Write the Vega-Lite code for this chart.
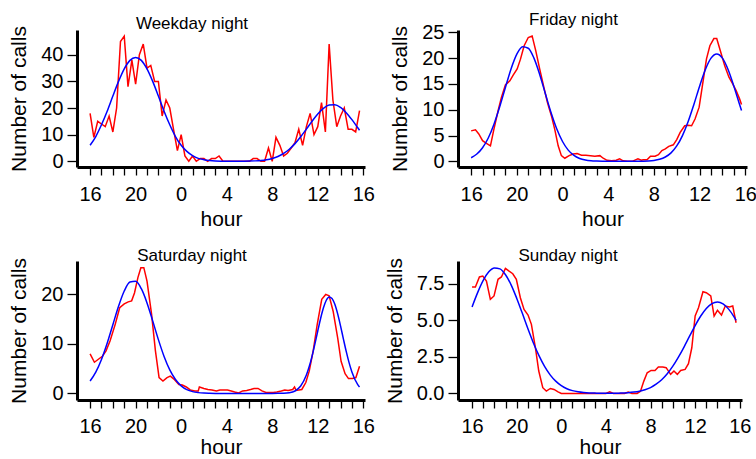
{
  "$schema": "https://vega.github.io/schema/vega-lite/v6.json",
  "background": "white",
  "padding": {"left": 8, "top": 11, "right": 3, "bottom": 0},
  "config": {
    "font": "Liberation Sans",
    "view": {"stroke": null},
    "axis": {"domainColor": "black", "domainWidth": 3, "tickColor": "black", "tickWidth": 1.3, "labelColor": "black", "titleColor": "black", "labelFontSize": 20, "titleFontSize": 21, "titleFontWeight": "normal", "grid": false, "labelFlush": false, "labelOverlap": false},
    "axisX": {"tickSize": 8, "labelPadding": 9, "titlePadding": 4},
    "axisY": {"tickSize": 10, "labelPadding": 4, "titlePadding": 11},
    "title": {"fontSize": 17, "fontWeight": "normal", "color": "black", "offset": -7, "dx": -29}
  },
  "datasets": {
    "wk_obs": [
      {"h":0,"calls":18},{"h":0.33,"calls":9},{"h":0.67,"calls":15},{"h":1,"calls":14},{"h":1.33,"calls":13},{"h":1.67,"calls":17},{"h":2,"calls":11},{"h":2.33,"calls":20},{"h":2.67,"calls":45},{"h":3,"calls":47},
      {"h":3.33,"calls":28},{"h":3.67,"calls":38},{"h":4,"calls":29},{"h":4.33,"calls":40},{"h":4.67,"calls":44},{"h":5,"calls":35},{"h":5.33,"calls":36},{"h":5.67,"calls":30},{"h":6,"calls":30},{"h":6.33,"calls":17},
      {"h":6.67,"calls":23},{"h":7,"calls":20},{"h":7.33,"calls":12},{"h":7.67,"calls":4},{"h":8,"calls":10},{"h":8.33,"calls":2},{"h":8.67,"calls":0},{"h":9,"calls":2},{"h":9.33,"calls":0},{"h":9.67,"calls":1},
      {"h":10,"calls":1},{"h":10.33,"calls":0},{"h":10.67,"calls":1},{"h":11,"calls":1},{"h":11.33,"calls":2},{"h":11.67,"calls":0},{"h":12,"calls":0},{"h":12.33,"calls":0},{"h":12.67,"calls":0},{"h":13,"calls":0},
      {"h":13.33,"calls":0},{"h":13.67,"calls":0},{"h":14,"calls":0},{"h":14.33,"calls":1},{"h":14.67,"calls":1},{"h":15,"calls":0},{"h":15.33,"calls":0},{"h":15.67,"calls":5},{"h":16,"calls":0},{"h":16.33,"calls":9},
      {"h":16.67,"calls":6},{"h":17,"calls":2},{"h":17.33,"calls":3},{"h":17.67,"calls":5},{"h":18,"calls":7},{"h":18.33,"calls":12},{"h":18.67,"calls":6},{"h":19,"calls":13},{"h":19.33,"calls":18},{"h":19.67,"calls":10},
      {"h":20,"calls":13},{"h":20.33,"calls":22},{"h":20.67,"calls":11},{"h":21,"calls":44},{"h":21.33,"calls":23},{"h":21.67,"calls":13},{"h":22,"calls":17},{"h":22.33,"calls":20},{"h":22.67,"calls":12},{"h":23,"calls":12},
      {"h":23.33,"calls":11},{"h":23.67,"calls":19}
    ],
    "wk_fit": [
      {"h":0,"calls":6.0},{"h":0.5,"calls":9.3},{"h":1,"calls":13.7},{"h":1.5,"calls":18.8},{"h":2,"calls":24.5},{"h":2.5,"calls":30.0},{"h":3,"calls":34.7},{"h":3.5,"calls":37.9},{"h":4,"calls":39.0},{"h":4.5,"calls":37.9},
      {"h":5,"calls":34.7},{"h":5.5,"calls":30.0},{"h":6,"calls":24.5},{"h":6.5,"calls":18.8},{"h":7,"calls":13.7},{"h":7.5,"calls":9.3},{"h":8,"calls":6.0},{"h":8.5,"calls":3.7},{"h":9,"calls":2.1},{"h":9.5,"calls":1.1},
      {"h":10,"calls":0.6},{"h":10.5,"calls":0.3},{"h":11,"calls":0.13},{"h":11.5,"calls":0.05},{"h":12,"calls":0.02},{"h":12.5,"calls":0.01},{"h":13,"calls":0.01},{"h":13.5,"calls":0.03},{"h":14,"calls":0.07},{"h":14.5,"calls":0.15},
      {"h":15,"calls":0.3},{"h":15.5,"calls":0.58},{"h":16,"calls":1.05},{"h":16.5,"calls":1.8},{"h":17,"calls":2.94},{"h":17.5,"calls":4.53},{"h":18,"calls":6.63},{"h":18.5,"calls":9.2},{"h":19,"calls":12.08},{"h":19.5,"calls":15.05},
      {"h":20,"calls":17.77},{"h":20.5,"calls":19.89},{"h":21,"calls":21.1},{"h":21.5,"calls":21.21},{"h":22,"calls":20.21},{"h":22.5,"calls":18.25},{"h":23,"calls":15.63},{"h":23.5,"calls":12.68},{"h":23.67,"calls":11.67}
    ],
    "fr_obs": [
      {"h":0,"calls":5.9},{"h":0.38,"calls":6.1},{"h":0.67,"calls":5.3},{"h":1.0,"calls":4.0},{"h":1.34,"calls":3.5},{"h":1.69,"calls":3.0},{"h":2.0,"calls":6.3},{"h":2.36,"calls":9.8},{"h":2.65,"calls":12.4},{"h":3.0,"calls":14.8},
      {"h":3.39,"calls":15.6},{"h":3.68,"calls":16.7},{"h":4.03,"calls":17.9},{"h":4.32,"calls":19.8},{"h":4.64,"calls":22.4},{"h":5.0,"calls":24.0},{"h":5.34,"calls":24.3},{"h":5.66,"calls":21.4},{"h":6.0,"calls":17.9},{"h":6.37,"calls":14.3},
      {"h":6.68,"calls":11.4},{"h":7.03,"calls":8.8},{"h":7.33,"calls":6.1},{"h":7.62,"calls":3.0},{"h":7.9,"calls":1.1},{"h":8.2,"calls":0.6},{"h":8.58,"calls":1.1},{"h":8.93,"calls":1.4},{"h":9.28,"calls":1.5},{"h":9.66,"calls":1.2},
      {"h":10.04,"calls":1.2},{"h":10.45,"calls":1.1},{"h":10.83,"calls":1.0},{"h":11.27,"calls":1.1},{"h":11.56,"calls":0.6},{"h":11.9,"calls":0.2},{"h":12.3,"calls":0.1},{"h":12.7,"calls":0.2},{"h":13.0,"calls":0.5},{"h":13.3,"calls":0.1},
      {"h":13.7,"calls":0.0},{"h":14.1,"calls":0.0},{"h":14.6,"calls":0.5},{"h":14.9,"calls":0.2},{"h":15.06,"calls":0.3},{"h":15.4,"calls":0.3},{"h":15.7,"calls":1.0},{"h":16.1,"calls":1.0},{"h":16.4,"calls":1.3},{"h":16.7,"calls":2.1},
      {"h":17.0,"calls":2.4},{"h":17.3,"calls":2.9},{"h":17.7,"calls":3.2},{"h":18.0,"calls":4.2},{"h":18.3,"calls":5.6},{"h":18.7,"calls":6.9},{"h":19.0,"calls":7.0},{"h":19.3,"calls":6.9},{"h":19.6,"calls":8.2},{"h":19.96,"calls":10.5},
      {"h":20.25,"calls":14.7},{"h":20.6,"calls":19.8},{"h":20.9,"calls":22.4},{"h":21.25,"calls":23.8},{"h":21.5,"calls":23.8},{"h":21.86,"calls":21.1},{"h":22.2,"calls":18.5},{"h":22.57,"calls":16.3},{"h":22.9,"calls":15.0},{"h":23.2,"calls":13.7},
      {"h":23.5,"calls":12.1},{"h":23.67,"calls":11.0}
    ],
    "fr_fit": [
      {"h":0,"calls":0.7},{"h":0.5,"calls":1.41},{"h":1,"calls":2.63},{"h":1.5,"calls":4.52},{"h":2,"calls":7.19},{"h":2.5,"calls":10.56},{"h":3,"calls":14.32},{"h":3.5,"calls":17.95},{"h":4,"calls":20.77},{"h":4.5,"calls":22.2},
      {"h":5,"calls":21.92},{"h":5.5,"calls":19.99},{"h":6,"calls":16.84},{"h":6.5,"calls":13.1},{"h":7,"calls":9.42},{"h":7.5,"calls":6.26},{"h":8,"calls":3.84},{"h":8.5,"calls":2.17},{"h":9,"calls":1.14},{"h":9.5,"calls":0.55},
      {"h":10,"calls":0.25},{"h":10.5,"calls":0.1},{"h":11,"calls":0.04},{"h":11.5,"calls":0.01},{"h":12,"calls":0},{"h":12.5,"calls":0},{"h":13,"calls":0},{"h":13.5,"calls":0},{"h":14,"calls":0},{"h":14.5,"calls":0.01},
      {"h":15,"calls":0.03},{"h":15.5,"calls":0.07},{"h":16,"calls":0.17},{"h":16.5,"calls":0.39},{"h":17,"calls":0.84},{"h":17.5,"calls":1.64},{"h":18,"calls":2.98},{"h":18.5,"calls":4.99},{"h":19,"calls":7.72},{"h":19.5,"calls":11.02},
      {"h":20,"calls":14.56},{"h":20.5,"calls":17.75},{"h":21,"calls":19.99},{"h":21.5,"calls":20.8},{"h":22,"calls":19.99},{"h":22.5,"calls":17.75},{"h":23,"calls":14.56},{"h":23.5,"calls":11.02},{"h":23.67,"calls":9.85}
    ],
    "sa_obs": [
      {"h":0,"calls":8.0},{"h":0.38,"calls":6.3},{"h":0.73,"calls":6.9},{"h":1.08,"calls":7.5},{"h":1.4,"calls":8.6},{"h":1.75,"calls":10.6},{"h":2.2,"calls":13.9},{"h":2.6,"calls":17.3},{"h":3.0,"calls":18.1},{"h":3.35,"calls":18.5},
      {"h":3.65,"calls":18.7},{"h":3.9,"calls":20.3},{"h":4.2,"calls":23.4},{"h":4.46,"calls":25.4},{"h":4.72,"calls":25.4},{"h":5.0,"calls":22.7},{"h":5.4,"calls":16.0},{"h":5.74,"calls":8.6},{"h":6.06,"calls":3.2},{"h":6.4,"calls":2.5},
      {"h":6.76,"calls":3.2},{"h":7.05,"calls":3.5},{"h":7.4,"calls":2.8},{"h":7.8,"calls":1.8},{"h":8.1,"calls":1.7},{"h":8.45,"calls":1.3},{"h":8.8,"calls":0.7},{"h":9.2,"calls":0.5},{"h":9.5,"calls":0.5},{"h":9.6,"calls":1.3},
      {"h":10.0,"calls":1.0},{"h":10.35,"calls":0.8},{"h":10.7,"calls":0.7},{"h":11.1,"calls":0.5},{"h":11.4,"calls":0.7},{"h":11.7,"calls":0.7},{"h":12.07,"calls":0.7},{"h":12.4,"calls":0.5},{"h":12.7,"calls":0.3},{"h":13.06,"calls":0.1},
      {"h":13.4,"calls":0.5},{"h":13.76,"calls":0.6},{"h":14.1,"calls":0.8},{"h":14.4,"calls":1.0},{"h":14.75,"calls":1.0},{"h":15.1,"calls":0.5},{"h":15.45,"calls":0.2},{"h":15.75,"calls":0.2},{"h":16.1,"calls":0.2},{"h":16.4,"calls":0.3},
      {"h":16.8,"calls":0.5},{"h":17.1,"calls":0.7},{"h":17.4,"calls":0.6},{"h":17.8,"calls":0.8},{"h":17.96,"calls":1.3},{"h":18.1,"calls":0.6},{"h":18.6,"calls":0.8},{"h":18.95,"calls":2.2},{"h":19.25,"calls":4.5},{"h":19.6,"calls":8.6},
      {"h":19.95,"calls":13.9},{"h":20.35,"calls":19.0},{"h":20.7,"calls":20.0},{"h":21.0,"calls":19.7},{"h":21.35,"calls":16.6},{"h":21.75,"calls":11.2},{"h":22.05,"calls":6.5},{"h":22.4,"calls":4.0},{"h":22.7,"calls":3.0},{"h":23.05,"calls":3.0},
      {"h":23.35,"calls":3.2},{"h":23.67,"calls":5.5}
    ],
    "sa_fit": [
      {"h":0,"calls":2.5},{"h":0.5,"calls":4.3},{"h":1,"calls":6.87},{"h":1.5,"calls":10.14},{"h":2,"calls":13.88},{"h":2.5,"calls":17.6},{"h":3,"calls":20.68},{"h":3.5,"calls":22.49},{"h":4,"calls":22.66},{"h":4.5,"calls":21.15},
      {"h":5,"calls":18.29},{"h":5.5,"calls":14.65},{"h":6,"calls":10.87},{"h":6.5,"calls":7.47},{"h":7,"calls":4.75},{"h":7.5,"calls":2.81},{"h":8,"calls":1.53},{"h":8.5,"calls":0.77},{"h":9,"calls":0.36},{"h":9.5,"calls":0.16},
      {"h":10,"calls":0.06},{"h":10.5,"calls":0.02},{"h":11,"calls":0},{"h":12,"calls":0},{"h":13,"calls":0},{"h":14,"calls":0},{"h":15,"calls":0},{"h":16,"calls":0},{"h":16.5,"calls":0.01},{"h":17,"calls":0.03},
      {"h":17.5,"calls":0.13},{"h":18,"calls":0.49},{"h":18.5,"calls":1.49},{"h":19,"calls":3.7},{"h":19.25,"calls":5.42},{"h":19.5,"calls":7.54},{"h":19.75,"calls":10.0},{"h":20,"calls":12.61},{"h":20.25,"calls":15.14},{"h":20.5,"calls":17.3},
      {"h":20.75,"calls":18.82},{"h":21,"calls":19.5},{"h":21.25,"calls":19.19},{"h":21.5,"calls":18.0},{"h":21.75,"calls":16.06},{"h":22,"calls":13.65},{"h":22.25,"calls":11.03},{"h":22.5,"calls":8.49},{"h":22.75,"calls":6.22},{"h":23,"calls":4.34},
      {"h":23.5,"calls":1.82},{"h":23.67,"calls":1.29}
    ],
    "su_obs": [
      {"h":0,"calls":7.27},{"h":0.3,"calls":7.27},{"h":0.66,"calls":7.96},{"h":0.96,"calls":8.02},{"h":1.29,"calls":7.68},{"h":1.64,"calls":6.43},{"h":1.97,"calls":6.66},{"h":2.33,"calls":7.8},{"h":2.63,"calls":7.96},{"h":2.99,"calls":8.55},
      {"h":3.29,"calls":8.37},{"h":3.65,"calls":8.18},{"h":3.97,"calls":7.8},{"h":4.33,"calls":6.54},{"h":4.66,"calls":5.74},{"h":5.02,"calls":5.36},{"h":5.32,"calls":4.72},{"h":5.68,"calls":3.12},{"h":5.98,"calls":1.53},{"h":6.34,"calls":0.39},
      {"h":6.66,"calls":0.16},{"h":7.02,"calls":0.34},{"h":7.35,"calls":0.27},{"h":7.71,"calls":0.11},{"h":8.0,"calls":0},{"h":9.0,"calls":0},{"h":10.0,"calls":0},{"h":11.0,"calls":0},{"h":12.0,"calls":0},{"h":12.34,"calls":0.11},
      {"h":12.67,"calls":0},{"h":13.67,"calls":0},{"h":14.0,"calls":0.1},{"h":14.33,"calls":0},{"h":14.8,"calls":0},{"h":15.1,"calls":0.15},{"h":15.4,"calls":0.84},{"h":15.7,"calls":1.41},{"h":16.05,"calls":1.57},{"h":16.4,"calls":1.57},
      {"h":16.7,"calls":1.8},{"h":17.1,"calls":1.8},{"h":17.4,"calls":1.76},{"h":17.8,"calls":1.3},{"h":18.1,"calls":1.53},{"h":18.4,"calls":1.3},{"h":18.7,"calls":1.57},{"h":19.1,"calls":1.64},{"h":19.4,"calls":2.03},{"h":19.7,"calls":3.12},
      {"h":20.0,"calls":5.29},{"h":20.3,"calls":5.86},{"h":20.7,"calls":6.95},{"h":21.0,"calls":6.88},{"h":21.4,"calls":6.66},{"h":21.7,"calls":5.29},{"h":22.0,"calls":5.68},{"h":22.36,"calls":5.36},{"h":22.7,"calls":5.97},{"h":23.07,"calls":5.9},
      {"h":23.37,"calls":5.97},{"h":23.67,"calls":4.83}
    ],
    "su_fit": [
      {"h":0,"calls":5.91},{"h":0.5,"calls":6.89},{"h":1,"calls":7.72},{"h":1.5,"calls":8.31},{"h":2,"calls":8.58},{"h":2.5,"calls":8.51},{"h":3,"calls":8.11},{"h":3.5,"calls":7.42},{"h":4,"calls":6.51},{"h":4.5,"calls":5.49},
      {"h":5,"calls":4.44},{"h":5.5,"calls":3.45},{"h":6,"calls":2.58},{"h":6.5,"calls":1.85},{"h":7,"calls":1.27},{"h":7.5,"calls":0.84},{"h":8,"calls":0.53},{"h":8.5,"calls":0.32},{"h":9,"calls":0.19},{"h":9.5,"calls":0.11},
      {"h":10,"calls":0.06},{"h":10.5,"calls":0.03},{"h":11,"calls":0.02},{"h":11.5,"calls":0.01},{"h":12,"calls":0.01},{"h":12.5,"calls":0.01},{"h":13,"calls":0.01},{"h":13.5,"calls":0.03},{"h":14,"calls":0.05},{"h":14.5,"calls":0.09},
      {"h":15,"calls":0.15},{"h":15.5,"calls":0.25},{"h":16,"calls":0.4},{"h":16.5,"calls":0.63},{"h":17,"calls":0.93},{"h":17.5,"calls":1.34},{"h":18,"calls":1.86},{"h":18.5,"calls":2.48},{"h":19,"calls":3.17},{"h":19.5,"calls":3.91},
      {"h":20,"calls":4.64},{"h":20.5,"calls":5.29},{"h":21,"calls":5.81},{"h":21.5,"calls":6.14},{"h":22,"calls":6.25},{"h":22.5,"calls":6.12},{"h":23,"calls":5.76},{"h":23.5,"calls":5.22},{"h":23.67,"calls":5.0}
    ]
  },
  "columns": 2,
  "spacing": {"row": 17, "column": 9},
  "concat": [
    {
      "title": "Weekday night",
      "width": 288, "height": 137,
      "encoding": {
        "x": {"field": "h", "type": "quantitative", "scale": {"domain": [-1.15, 24.15], "nice": false, "zero": false},
              "axis": {"title": "hour", "values": [0,1,2,3,4,5,6,7,8,9,10,11,12,13,14,15,16,17,18,19,20,21,22,23,24], "labelExpr": "datum.value % 4 == 0 ? '' + ((datum.value + 16) % 24) : ''"}},
        "y": {"field": "calls", "type": "quantitative", "scale": {"domain": [-2.15, 49.3], "nice": false, "zero": false},
              "axis": {"title": "Number of calls", "values": [0,10,20,30,40]}}
      },
      "layer": [
        {"data": {"name": "wk_obs"}, "mark": {"type": "line", "color": "#FF0000", "strokeWidth": 1.5}},
        {"data": {"name": "wk_fit"}, "mark": {"type": "line", "color": "#0000FF", "strokeWidth": 1.5, "interpolate": "monotone"}}
      ]
    },
    {
      "title": "Friday night",
      "width": 289, "height": 137,
      "encoding": {
        "x": {"field": "h", "type": "quantitative", "scale": {"domain": [-1.15, 24.15], "nice": false, "zero": false},
              "axis": {"title": "hour", "values": [0,1,2,3,4,5,6,7,8,9,10,11,12,13,14,15,16,17,18,19,20,21,22,23,24], "labelExpr": "datum.value % 4 == 0 ? '' + ((datum.value + 16) % 24) : ''"}},
        "y": {"field": "calls", "type": "quantitative", "scale": {"domain": [-1.1, 25.45], "nice": false, "zero": false},
              "axis": {"title": "Number of calls", "values": [0,5,10,15,20,25]}}
      },
      "layer": [
        {"data": {"name": "fr_obs"}, "mark": {"type": "line", "color": "#FF0000", "strokeWidth": 1.5}},
        {"data": {"name": "fr_fit"}, "mark": {"type": "line", "color": "#0000FF", "strokeWidth": 1.5, "interpolate": "monotone"}}
      ]
    },
    {
      "title": "Saturday night",
      "width": 288, "height": 139,
      "encoding": {
        "x": {"field": "h", "type": "quantitative", "scale": {"domain": [-1.15, 24.15], "nice": false, "zero": false},
              "axis": {"title": "hour", "labelPadding": 8, "titlePadding": 0, "values": [0,1,2,3,4,5,6,7,8,9,10,11,12,13,14,15,16,17,18,19,20,21,22,23,24], "labelExpr": "datum.value % 4 == 0 ? '' + ((datum.value + 16) % 24) : ''"}},
        "y": {"field": "calls", "type": "quantitative", "scale": {"domain": [-1.33, 26.75], "nice": false, "zero": false},
              "axis": {"title": "Number of calls", "values": [0,10,20]}}
      },
      "layer": [
        {"data": {"name": "sa_obs"}, "mark": {"type": "line", "color": "#FF0000", "strokeWidth": 1.5}},
        {"data": {"name": "sa_fit"}, "mark": {"type": "line", "color": "#0000FF", "strokeWidth": 1.5, "interpolate": "monotone"}}
      ]
    },
    {
      "title": {"text": "Sunday night", "dx": -32},
      "width": 284, "height": 139,
      "encoding": {
        "x": {"field": "h", "type": "quantitative", "scale": {"domain": [-1.26, 24.2], "nice": false, "zero": false},
              "axis": {"title": "hour", "labelPadding": 8, "titlePadding": 0, "values": [0,1,2,3,4,5,6,7,8,9,10,11,12,13,14,15,16,17,18,19,20,21,22,23,24], "labelExpr": "datum.value % 4 == 0 ? '' + ((datum.value + 16) % 24) : ''"}},
        "y": {"field": "calls", "type": "quantitative", "scale": {"domain": [-0.45, 9.05], "nice": false, "zero": false},
              "axis": {"title": "Number of calls", "values": [0,2.5,5,7.5], "format": ".1f"}}
      },
      "layer": [
        {"data": {"name": "su_obs"}, "mark": {"type": "line", "color": "#FF0000", "strokeWidth": 1.5}},
        {"data": {"name": "su_fit"}, "mark": {"type": "line", "color": "#0000FF", "strokeWidth": 1.5, "interpolate": "monotone"}}
      ]
    }
  ]
}
